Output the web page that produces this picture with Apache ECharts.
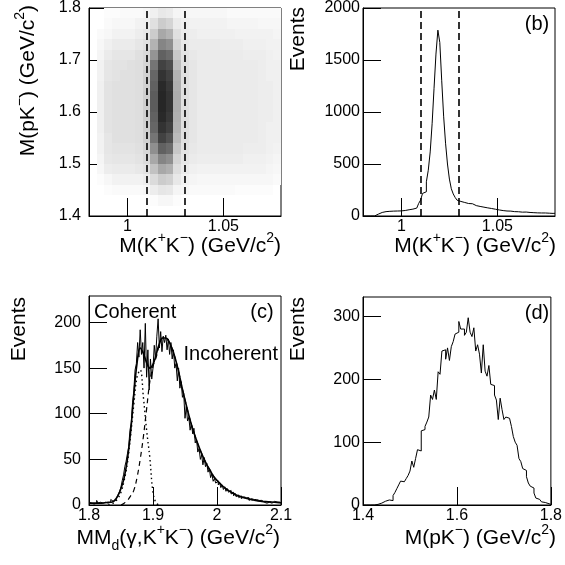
<!DOCTYPE html>
<html><head><meta charset="utf-8">
<script src="https://cdn.jsdelivr.net/npm/echarts@6/dist/echarts.min.js"></script>
<style>html,body{margin:0;padding:0;background:#fff}#chart{width:565px;height:565px}</style>
</head><body><div id="chart"></div>
<script>
// ---------------- data ----------------
const cutLines = [1.009, 1.029];

// (a) estimated dot coverage (%) per cell; rows start at M(pK-)=1.40 (step 0.02), columns at M(KK)=0.980 (step 0.004)
const scatterXStart = 0.98, scatterXBin = 0.004, scatterYStart = 1.40, scatterYBin = 0.02;
const scatterDensity = [
  [0,0,0,0,0,0,0, 0,0,0,0,0,0, 0,0,0,0,0,0,0,0,0,0,0,0],
  [0,0,0,0,0,0,0, 0,1,3,3,1,0, 0,0,0,0,0,0,0,0,0,0,0,0],
  [0,0,1,2,2,2,2, 3,7,10,9,4,3, 2,2,2,2,2,2,1,1,1,1,1,0],
  [0,1,3,5,5,5,5, 7,14,20,18,9,5, 4,3,3,3,3,3,3,3,3,3,3,2],
  [0,3,7,8,8,8,9, 11,24,34,31,13,8, 6,5,5,5,5,5,5,5,5,5,4,3],
  [0,4,9,10,10,10,11, 14,34,48,44,17,10, 8,7,7,7,7,7,7,6,6,6,5,4],
  [0,5,10,11,11,11,12, 16,44,62,58,22,11, 9,8,8,8,8,8,8,7,7,7,6,5],
  [0,5,10,12,12,12,13, 18,54,74,68,27,12, 10,8,8,8,8,8,8,8,8,7,6,6],
  [0,6,11,12,12,12,13, 18,60,80,75,30,12, 10,8,8,8,8,8,8,8,8,7,6,6],
  [0,6,11,12,12,12,13, 19,62,84,78,31,12, 10,8,8,8,8,8,8,8,8,7,7,6],
  [0,6,11,12,12,12,13, 19,64,85,80,32,12, 10,8,8,8,8,8,8,8,8,7,7,6],
  [0,6,11,12,12,12,13, 19,64,85,80,32,12, 10,8,8,8,8,8,8,8,8,7,7,6],
  [0,6,11,12,12,12,13, 18,62,84,78,31,12, 10,8,8,8,8,8,8,8,8,7,7,6],
  [0,5,10,11,12,12,13, 18,60,80,75,30,12, 10,8,8,8,8,8,8,8,8,7,6,6],
  [0,5,10,11,11,12,13, 17,54,74,70,26,12, 10,8,8,8,8,8,8,8,8,7,6,6],
  [0,4,8,10,10,10,12, 15,42,62,58,21,11, 9,8,8,8,8,8,8,7,7,7,6,5],
  [0,3,6,8,8,8,10, 12,30,48,44,16,9, 8,8,8,8,7,7,7,6,6,6,5,5],
  [0,2,3,5,5,5,7, 9,20,34,30,12,8, 7,6,6,6,6,6,5,5,5,5,5,4],
  [0,0,2,3,3,3,5, 6,12,20,17,8,6, 5,5,5,5,5,4,4,4,4,3,3,3],
  [0,0,1,1,2,2,2, 3,6,9,8,4,3, 3,3,3,3,3,2,2,2,2,2,2,2]
];

// (b) M(K+K-) histogram, bins of 0.001 starting at 0.980
const kkStart = 0.98, kkBin = 0.001;
const kkCounts = [
  0,0,0,0,0,0,8,18,28,34,
  38,42,40,45,43,47,45,48,51,49,
  55,53,58,60,58,66,70,76,88,121,
  153,217,233,329,440,616,887,1228,1557,1787,
  1668,1300,960,700,500,355,262,212,178,152,
  140,145,130,125,120,114,118,105,100,102,
  92,90,85,88,78,75,72,70,65,62,
  58,55,52,50,48,46,47,44,42,40,
  41,38,37,36,38,35,34,33,32,33,
  30,30,29,28,29,27,27,26,25,26
];

// (c) missing-mass histogram, bins of 0.002 starting at 1.800
const mmStart = 1.8, mmBin = 0.002;
const mmCounts = [
  3,2,4,1,3,2,5,2,3,4,
  2,4,3,5,2,4,3,6,4,5,
  5,7,9,12,15,20,27,33,42,48,
  56,64,82,90,112,125,148,155,178,162,
  192,165,178,150,199,140,170,126,160,138,
  150,175,160,185,204,172,190,168,185,178,
  186,170,182,165,178,160,170,150,155,136,
  150,128,135,118,122,95,108,92,96,82,
  90,78,84,68,72,58,62,50,55,44,
  52,42,46,36,40,30,34,26,29,24,
  26,22,25,19,22,17,20,15,18,14,
  16,12,14,10,13,9,11,8,10,7,
  9,7,8,6,8,5,7,5,6,4,
  6,4,5,3,5,4,3,5,2,4,
  3,4,2,3,4,2,3,1,3,2
];
const fitX = [1.80,1.81,1.82,1.83,1.835,1.84,1.845,1.85,1.855,1.86,1.865,1.87,1.875,1.88,1.885,1.89,1.895,1.90,1.905,1.91,1.915,1.92,1.925,1.93,1.935,1.94,1.945,1.95,1.955,1.96,1.965,1.97,1.975,1.98,1.985,1.99,1.995,2.00,2.01,2.02,2.03,2.04,2.05,2.06,2.07,2.08,2.09,2.10];
const fitTotal = [2,2,2,3,3,5,10,18,30,50,80,120,155,172,166,156,150,154,165,177,183,183,179,171,160,146,130,115,101,88,77,67,58,50,43,37,31,27,20,15,11,8.5,6.5,5,4,3.5,3,2.5];
const coherentX = [1.83,1.835,1.84,1.845,1.85,1.855,1.86,1.865,1.87,1.875,1.88,1.885,1.89,1.895,1.90,1.905,1.91];
const coherentFit = [0,1,3,7,14,27,46,76,110,140,148,118,82,52,14,2,0];
const incoherentX = [1.85,1.855,1.86,1.865,1.87,1.875,1.88,1.885,1.89,1.895,1.90,1.905,1.91,1.915,1.92,1.925,1.93,1.935,1.94,1.945,1.95,1.955,1.96,1.965,1.97,1.975,1.98,1.985,1.99,1.995,2.00,2.01,2.02,2.03,2.04,2.05,2.06,2.07,2.08,2.09,2.10];
const incoherentFit = [0,2,5,10,16,30,50,75,105,135,152,162,176,183,183,179,171,160,146,130,115,101,88,77,67,58,50,43,37,31,27,20,15,11,8.5,6.5,5,4,3.5,3,2.5];

// (d) M(pK-) histogram, bins of 0.004 starting at 1.400
const pkStart = 1.4, pkBin = 0.004;
const pkCounts = [
  0,0,0,0,0,0,0,1,2,3,
  4,6,6,8,10,7,15,20,26,32,
  38,37,36,42,47,54,70,60,74,88,
  86,118,120,125,132,140,175,168,183,168,
  212,208,245,247,232,250,230,252,260,272,
  275,292,280,280,270,275,298,275,268,282,
  245,255,240,210,255,213,205,222,192,190,
  175,167,136,170,152,136,140,138,141,125,
  109,100,95,74,69,58,55,45,35,30,
  27,19,11,9,7,5,4,3,2,1
];

// tick labels
const ticksAX = [1, 1.05], ticksAY = [1.4, 1.5, 1.6, 1.7, 1.8];
const ticksBX = [1, 1.05], ticksBY = [0, 500, 1000, 1500, 2000];
const ticksCX = [1.8, 1.9, 2, 2.1], ticksCY = [0, 50, 100, 150, 200];
const ticksDX = [1.4, 1.6, 1.8], ticksDY = [0, 100, 200, 300];

// ---------------- chart ----------------
const FONT = 'Liberation Sans, Arial, Helvetica, sans-serif';
const chart = echarts.init(document.getElementById('chart'), null, {renderer: 'canvas'});

function histData(start, bin, counts) {
  const d = counts.map((c, i) => [start + i * bin, c]);
  d.push([start + counts.length * bin, counts[counts.length - 1]]);
  return d;
}
function pairs(xs, ys) { return xs.map((x, i) => [x, ys[i]]); }

const scatterCells = [];
scatterDensity.forEach((row, r) => row.forEach((v, c) => {
  if (v > 0) scatterCells.push([scatterXStart + c * scatterXBin, scatterYStart + r * scatterYBin, v]);
}));

function axisCfg(gridIndex, min, max, ticks, margin) {
  return {
    type: 'value', gridIndex, min, max,
    axisLine: {show: true, onZero: false, lineStyle: {color: '#000', width: 1}},
    axisTick: {show: true, inside: true, length: 18, customValues: ticks, lineStyle: {color: '#000', width: 1}},
    axisLabel: {customValues: ticks, color: '#000', fontSize: 16, fontFamily: FONT, margin: margin,
      formatter: function (v) { return String(v); }},
    splitLine: {show: false}
  };
}

const gridBase = {show: true, borderColor: '#000', borderWidth: 1, containLabel: false};
const rich = {
  m: {fontSize: 21, fontFamily: FONT, color: '#000', lineHeight: 30},
  s: {fontSize: 14, fontFamily: FONT, color: '#000', lineHeight: 14, verticalAlign: 'top'},
  d: {fontSize: 14, fontFamily: FONT, color: '#000', lineHeight: 14, verticalAlign: 'bottom'}
};
function title(x, y, text, rotate) {
  return {
    type: 'text', x: x, y: y, rotation: rotate ? Math.PI / 2 : 0,
    style: {text: text, rich: rich, align: 'right', verticalAlign: 'middle', fill: '#000', font: '21px ' + FONT}
  };
}
function plain(x, y, text, align) {
  return {type: 'text', x: x, y: y, style: {text: text, fontSize: 20, fontFamily: FONT, fill: '#000', align: align || 'center', verticalAlign: 'middle'}};
}

const cutMark = {
  silent: true, symbol: ['none', 'none'], label: {show: false},
  lineStyle: {color: '#000', type: [7, 4], width: 1.6},
  data: cutLines.map(v => ({xAxis: v}))
};

const option = {
  animation: false,
  backgroundColor: '#fff',
  grid: [
    Object.assign({left: 89, top: 8, width: 192, height: 208}, gridBase),
    Object.assign({left: 363, top: 7, width: 192, height: 209}, gridBase),
    Object.assign({left: 89, top: 296, width: 192, height: 209}, gridBase),
    Object.assign({left: 363, top: 297, width: 192, height: 208}, gridBase)
  ],
  xAxis: [
    axisCfg(0, 0.98, 1.08, ticksAX, 3),
    axisCfg(1, 0.98, 1.08, ticksBX, 3),
    axisCfg(2, 1.8, 2.1, ticksCX, 3),
    axisCfg(3, 1.4, 1.8, ticksDX, 3)
  ],
  yAxis: [
    axisCfg(0, 1.4, 1.8, ticksAY, 8),
    axisCfg(1, 0, 2000, ticksBY, 3),
    axisCfg(2, 0, 229, ticksCY, 8),
    axisCfg(3, 0, 331, ticksDY, 3)
  ],
  series: [
    {
      type: 'custom', xAxisIndex: 0, yAxisIndex: 0, data: scatterCells, clip: true, silent: true,
      renderItem: function (params, api) {
        const x0 = api.value(0), y0 = api.value(1), v = api.value(2);
        const p0 = api.coord([x0, y0]);
        const p1 = api.coord([x0 + scatterXBin, y0 + scatterYBin]);
        const xa = Math.round(p0[0]), xb = Math.round(p1[0]);
        const ya = Math.round(p1[1]), yb = Math.round(p0[1]);
        const g = Math.round(255 * (1 - v / 100));
        return {type: 'rect', shape: {x: xa, y: ya, width: xb - xa, height: yb - ya},
          style: {fill: 'rgb(' + g + ',' + g + ',' + g + ')'}};
      }
    },
    {type: 'line', xAxisIndex: 0, yAxisIndex: 0, data: [], markLine: cutMark},
    {
      type: 'line', xAxisIndex: 1, yAxisIndex: 1, step: 'end', symbol: 'none',
      data: histData(kkStart, kkBin, kkCounts), lineStyle: {color: '#000', width: 1}, markLine: cutMark
    },
    {
      type: 'line', xAxisIndex: 2, yAxisIndex: 2, step: 'end', symbol: 'none',
      data: histData(mmStart, mmBin, mmCounts), lineStyle: {color: '#000', width: 1}
    },
    {
      type: 'line', xAxisIndex: 2, yAxisIndex: 2, smooth: 0.4, symbol: 'none',
      data: pairs(incoherentX, incoherentFit), lineStyle: {color: '#000', width: 1.2, type: [5, 4]}
    },
    {
      type: 'line', xAxisIndex: 2, yAxisIndex: 2, smooth: 0.4, symbol: 'none',
      data: pairs(coherentX, coherentFit), lineStyle: {color: '#000', width: 1.4, type: [1.5, 3]}
    },
    {
      type: 'line', xAxisIndex: 2, yAxisIndex: 2, smooth: 0.4, symbol: 'none',
      data: pairs(fitX, fitTotal), lineStyle: {color: '#000', width: 1.6}
    },
    {
      type: 'line', xAxisIndex: 3, yAxisIndex: 3, step: 'end', symbol: 'none',
      data: histData(pkStart, pkBin, pkCounts), lineStyle: {color: '#000', width: 1}
    }
  ],
  graphic: [
    title(281, 246, '{m|M(K}{s|+}{m|K}{s|−}{m|) (GeV/c}{s|2}{m|)}', false),
    title(556, 246, '{m|M(K}{s|+}{m|K}{s|−}{m|) (GeV/c}{s|2}{m|)}', false),
    title(280, 538, '{m|MM}{d|d}{m|(γ,K}{s|+}{m|K}{s|−}{m|) (GeV/c}{s|2}{m|)}', false),
    title(556, 538, '{m|M(pK}{s|−}{m|) (GeV/c}{s|2}{m|)}', false),
    title(28, 5, '{m|M(pK}{s|−}{m|) (GeV/c}{s|2}{m|)}', true),
    title(298, 7, '{m|Events}', true),
    title(19, 297, '{m|Events}', true),
    title(298, 297, '{m|Events}', true),
    plain(263, 24, '(a)'),
    plain(537, 24, '(b)'),
    plain(262, 312, '(c)'),
    plain(537, 313, '(d)'),
    plain(94, 312, 'Coherent', 'left'),
    plain(278, 354, 'Incoherent', 'right')
  ]
};
chart.setOption(option);
</script>
</body></html>
